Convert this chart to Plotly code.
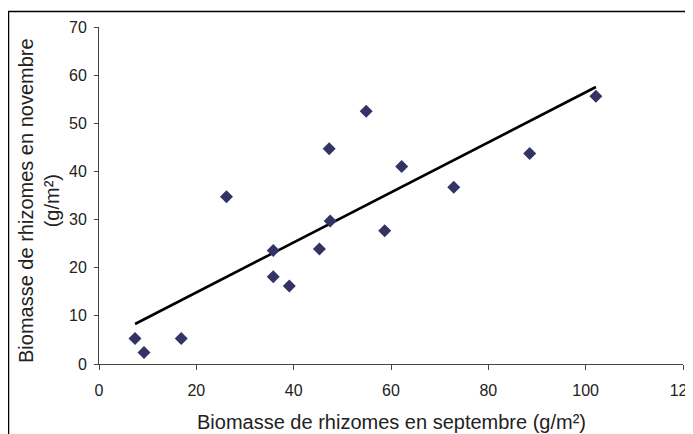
import numpy as np
import plotly.graph_objects as go

sept = [7.4, 9.25, 16.9, 26.2, 35.8, 35.8, 39.1, 45.3, 47.3, 47.5, 54.9, 58.7, 62.2, 72.9, 88.5, 102.1]
nov = [5.3, 2.4, 5.3, 34.75, 23.6, 18.1, 16.2, 23.9, 44.7, 29.7, 52.5, 27.7, 41.0, 36.7, 43.7, 55.6]

x_ticks = [0, 20, 40, 60, 80, 100, 120]
y_ticks = [0, 10, 20, 30, 40, 50, 60, 70]

slope, intercept = np.polyfit(sept, nov, 1)
tx = [min(sept), max(sept)]
ty = [slope * v + intercept for v in tx]

fig = go.Figure()
fig.add_trace(go.Scatter(x=tx, y=ty, mode="lines",
                         line=dict(color="black", width=2.6), showlegend=False, hoverinfo="skip"))
fig.add_trace(go.Scatter(x=sept, y=nov, mode="markers",
                         marker=dict(symbol="diamond", size=10, color="#333366"),
                         showlegend=False))

# page body has an 8px margin, so the figure is laid out in shifted coordinates
OFF = 8
W, H = 693 - OFF, 434 - OFF
L, R, T, B = 91, 10, 19, 70
pw, ph = W - L - R, H - T - B

def px_x(p):
    return (p - OFF - L) / pw

def px_y(p):
    return (H - B - (p - OFF)) / ph

font = "Liberation Sans, Arial, sans-serif"
fig.update_layout(
    width=W, height=H,
    margin=dict(l=L, r=R, t=T, b=B, autoexpand=False),
    paper_bgcolor="white", plot_bgcolor="white",
    font=dict(family=font, color="#222222", size=16),
    xaxis=dict(range=[0, 120], tickvals=x_ticks, showgrid=False, zeroline=False,
               showline=True, linecolor="#444444", linewidth=1,
               ticks="outside", ticklen=5, tickcolor="#444444",
               tickfont=dict(size=16), ticklabelstandoff=7,
               ticklabeloverflow="allow", automargin=False),
    yaxis=dict(range=[0, 70], tickvals=y_ticks, showgrid=False, zeroline=False,
               showline=True, linecolor="#444444", linewidth=1,
               ticks="outside", ticklen=4, tickcolor="#444444",
               tickfont=dict(size=16), ticklabelstandoff=4, automargin=False),
    shapes=[dict(type="rect", xref="paper", yref="paper",
                 x0=px_x(8.5), x1=px_x(720), y0=px_y(460), y1=px_y(11.5),
                 line=dict(color="black", width=1.5), fillcolor="rgba(0,0,0,0)", layer="below")],
    annotations=[
        dict(text="Biomasse de rhizomes en novembre<br>(g/m²)", textangle=-90,
             xref="paper", yref="paper", x=px_x(39.5), y=px_y(200.5),
             xanchor="center", yanchor="middle", showarrow=False,
             font=dict(size=20, color="#222222")),
        dict(text="Biomasse de rhizomes en septembre (g/m²)",
             xref="paper", yref="paper", x=px_x(391), y=px_y(422),
             xanchor="center", yanchor="middle", showarrow=False,
             font=dict(size=20, color="#222222")),
    ],
)

fig.write_html("out.html")
